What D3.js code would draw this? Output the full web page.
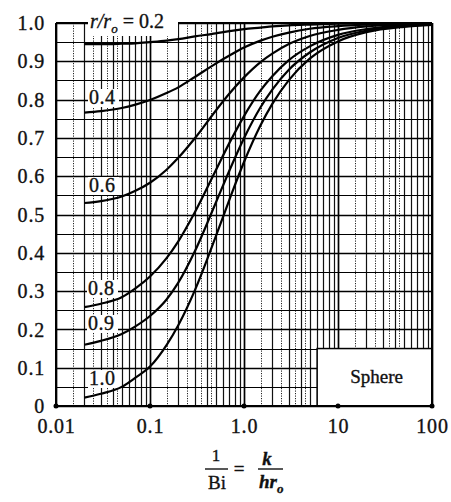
<!DOCTYPE html>
<html>
<head>
<meta charset="utf-8">
<script src="https://cdn.jsdelivr.net/npm/d3@7"></script>
<style>
  body { margin: 0; background: #fff; }
  text { font-family: "Liberation Serif", "DejaVu Serif", serif; fill: #111; stroke: #111; stroke-width: 0.35px; }
</style>
</head>
<body>
<script>
// chart size
let width = 451;
let height = 502;

// data: 1/Bi on x, theta/theta0 on y
let invBi = [0.02, 0.03, 0.05, 0.07, 0.1, 0.15, 0.2, 0.3, 0.5, 0.7, 1, 1.5, 2, 3, 5, 10, 20, 50, 100];
let r02 = [0.945, 0.945, 0.946, 0.947, 0.950, 0.954, 0.958, 0.965, 0.973, 0.979, 0.984, 0.988, 0.991, 0.994, 0.996, 0.998, 0.999, 1.0, 1.0];
let r04 = [0.766, 0.770, 0.778, 0.787, 0.799, 0.817, 0.832, 0.859, 0.894, 0.915, 0.936, 0.954, 0.964, 0.975, 0.985, 0.992, 0.996, 0.998, 0.999];
let r06 = [0.530, 0.535, 0.547, 0.562, 0.583, 0.617, 0.648, 0.699, 0.771, 0.816, 0.858, 0.898, 0.920, 0.945, 0.966, 0.982, 0.991, 0.996, 0.998];
let r08 = [0.258, 0.267, 0.284, 0.307, 0.338, 0.386, 0.430, 0.506, 0.615, 0.687, 0.757, 0.824, 0.861, 0.903, 0.939, 0.969, 0.984, 0.994, 0.997];
let r09 = [0.160, 0.170, 0.188, 0.208, 0.235, 0.278, 0.322, 0.404, 0.530, 0.615, 0.699, 0.780, 0.826, 0.878, 0.923, 0.961, 0.980, 0.992, 0.996];
let r10 = [0.022, 0.032, 0.050, 0.074, 0.103, 0.159, 0.211, 0.302, 0.442, 0.539, 0.637, 0.733, 0.789, 0.851, 0.907, 0.952, 0.976, 0.990, 0.995];

let curveNames = ["0.2", "0.4", "0.6", "0.8", "0.9", "1.0"];
let curveValues = [r02, r04, r06, r08, r09, r10];

// tick labels
let xTicks = [0.01, 0.1, 1, 10, 100];
let xTickLabels = ["0.01", "0.1", "1.0", "10", "100"];
let yTicks = [0, 0.1, 0.2, 0.3, 0.4, 0.5, 0.6, 0.7, 0.8, 0.9, 1.0];
let yTickLabels = ["0", "0.1", "0.2", "0.3", "0.4", "0.5", "0.6", "0.7", "0.8", "0.9", "1.0"];

// grid steps inside one decade
let solidSteps = [2, 3, 4, 5, 6, 7, 8, 9];
let dottedSteps = [1.5, 2.5, 3.5, 4.5];

let x = d3.scaleLog().domain([0.01, 100]).range([56, 432]);
let y = d3.scaleLinear().domain([0, 1]).range([406, 23]);

let svg = d3.select('body').append('svg')
  .attr('width', width)
  .attr('height', height);

let grid = svg.append('g');

// vertical grid
let decades = [0.01, 0.1, 1, 10];
decades.forEach(function(d) {
  solidSteps.forEach(function(s) {
    let px = Math.round(x(d * s)) + 0.5;
    grid.append('line').attr('x1', px).attr('x2', px).attr('y1', y(1)).attr('y2', y(0))
      .attr('stroke', '#111').attr('stroke-width', 1.2);
  });
  dottedSteps.forEach(function(s) {
    let px = Math.round(x(d * s)) + 0.5;
    grid.append('line').attr('x1', px).attr('x2', px).attr('y1', y(1)).attr('y2', y(0))
      .attr('stroke', '#222').attr('stroke-width', 1).attr('stroke-dasharray', '1.2,1.3');
  });
});
xTicks.forEach(function(t) {
  let px = Math.round(x(t)) + 0.5;
  grid.append('line').attr('x1', px).attr('x2', px).attr('y1', y(1)).attr('y2', y(0))
    .attr('stroke', '#000').attr('stroke-width', 1.7);
});

// horizontal grid every 0.05
d3.range(0, 21).forEach(function(i) {
  let py = Math.round(y(i * 0.05)) + 0.5;
  grid.append('line').attr('x1', x(0.01)).attr('x2', x(100)).attr('y1', py).attr('y2', py)
    .attr('stroke', '#000').attr('stroke-width', i % 2 == 0 ? 1.6 : 1.2);
});

// Sphere box
svg.append('rect')
  .attr('x', x(6)).attr('y', y(0.15))
  .attr('width', x(100) - x(6)).attr('height', y(0) - y(0.15))
  .attr('fill', '#fff').attr('stroke', '#000').attr('stroke-width', 1.5);
svg.append('text')
  .attr('x', (x(6) + x(100)) / 2 + 2).attr('y', y(0.075) + 6)
  .attr('text-anchor', 'middle').attr('font-size', 19)
  .text('Sphere');

// white patches behind curve labels
let labelPos = [
  { x: 90, y: 28 }, { x: 89, y: 104 }, { x: 89, y: 192 },
  { x: 88, y: 295 }, { x: 88, y: 330 }, { x: 89, y: 385 }
];
svg.append('rect').attr('x', 88).attr('y', 6).attr('width', 90).attr('height', 30).attr('fill', '#fff');
labelPos.slice(1).forEach(function(p) {
  svg.append('rect').attr('x', p.x - 1).attr('y', p.y - 15).attr('width', 31).attr('height', 18).attr('fill', '#fff');
});

// curves
let line = d3.line()
  .x(function(d) { return x(d[0]); })
  .y(function(d) { return y(d[1]); })
  .curve(d3.curveMonotoneX);

curveValues.forEach(function(vals) {
  svg.append('path')
    .datum(invBi.map(function(v, i) { return [v, vals[i]]; }))
    .attr('d', line)
    .attr('fill', 'none')
    .attr('stroke', '#000')
    .attr('stroke-width', 2.2);
});

// frame
svg.append('line').attr('x1', x(0.01)).attr('x2', x(0.01)).attr('y1', y(1)).attr('y2', y(0))
  .attr('stroke', '#000').attr('stroke-width', 2);
svg.append('line').attr('x1', x(100)).attr('x2', x(100)).attr('y1', y(1)).attr('y2', y(0))
  .attr('stroke', '#000').attr('stroke-width', 2);
svg.append('line').attr('x1', x(0.01)).attr('x2', 88).attr('y1', y(1)).attr('y2', y(1))
  .attr('stroke', '#000').attr('stroke-width', 2);
svg.append('line').attr('x1', 178).attr('x2', x(100)).attr('y1', y(1)).attr('y2', y(1))
  .attr('stroke', '#000').attr('stroke-width', 2);
svg.append('line').attr('x1', x(0.01)).attr('x2', x(100)).attr('y1', y(0)).attr('y2', y(0))
  .attr('stroke', '#000').attr('stroke-width', 2);

// decade dots on the x axis
svg.selectAll('circle.dot').data(xTicks).enter().append('circle')
  .attr('cx', function(d) { return x(d); }).attr('cy', y(0)).attr('r', 2.5).attr('fill', '#000');

// axes (labels only)
let xAxis = d3.axisBottom(x).tickValues(xTicks).tickSize(0)
  .tickFormat(function(d, i) { return xTickLabels[i]; });
let gx = svg.append('g').attr('transform', 'translate(0,' + y(0) + ')').call(xAxis);
gx.select('.domain').remove();
gx.selectAll('text').attr('font-size', 20).attr('dy', '1.2em').attr('letter-spacing', 0.8)
  .style('font-family', '"Liberation Serif", serif').attr('fill', '#111');

let yAxis = d3.axisLeft(y).tickValues(yTicks).tickSize(0)
  .tickFormat(function(d, i) { return yTickLabels[i]; });
let gy = svg.append('g').attr('transform', 'translate(' + (x(0.01) - 8) + ',0)').call(yAxis);
gy.select('.domain').remove();
gy.selectAll('text').attr('font-size', 20).attr('dy', '0.33em').attr('letter-spacing', 0.8)
  .style('font-family', '"Liberation Serif", serif').attr('fill', '#111');

// curve labels
let topLabel = svg.append('text').attr('x', labelPos[0].x).attr('y', labelPos[0].y).attr('font-size', 20);
topLabel.append('tspan').attr('font-style', 'italic').text('r/r');
topLabel.append('tspan').attr('font-style', 'italic').attr('font-size', 13).attr('dy', 5).text('o');
topLabel.append('tspan').attr('dy', -5).text(' = 0.2');

curveNames.slice(1).forEach(function(n, i) {
  let p = labelPos[i + 1];
  svg.append('text').attr('x', p.x).attr('y', p.y).attr('font-size', 20).attr('letter-spacing', 0.5).text(n);
});

// x axis title: 1/Bi = k/(h r_o)
let title = svg.append('g');
title.append('text').attr('x', 216).attr('y', 461).attr('text-anchor', 'middle').attr('font-size', 17).text('1');
title.append('line').attr('x1', 205).attr('x2', 228).attr('y1', 469).attr('y2', 469).attr('stroke', '#111').attr('stroke-width', 1.4);
title.append('text').attr('x', 217).attr('y', 489).attr('text-anchor', 'middle').attr('font-size', 19).text('Bi');
title.append('text').attr('x', 239).attr('y', 475).attr('text-anchor', 'middle').attr('font-size', 19).text('=');
title.append('text').attr('x', 267).attr('y', 465).attr('text-anchor', 'middle').attr('font-size', 19)
  .attr('font-style', 'italic').attr('font-weight', 'bold').text('k');
title.append('line').attr('x1', 258).attr('x2', 283).attr('y1', 469).attr('y2', 469).attr('stroke', '#111').attr('stroke-width', 1.4);
let hr = title.append('text').attr('x', 259).attr('y', 488).attr('font-size', 19)
  .attr('font-style', 'italic').attr('font-weight', 'bold');
hr.append('tspan').text('hr');
hr.append('tspan').attr('font-size', 13).attr('dy', 5).text('o');
</script>
</body>
</html>
